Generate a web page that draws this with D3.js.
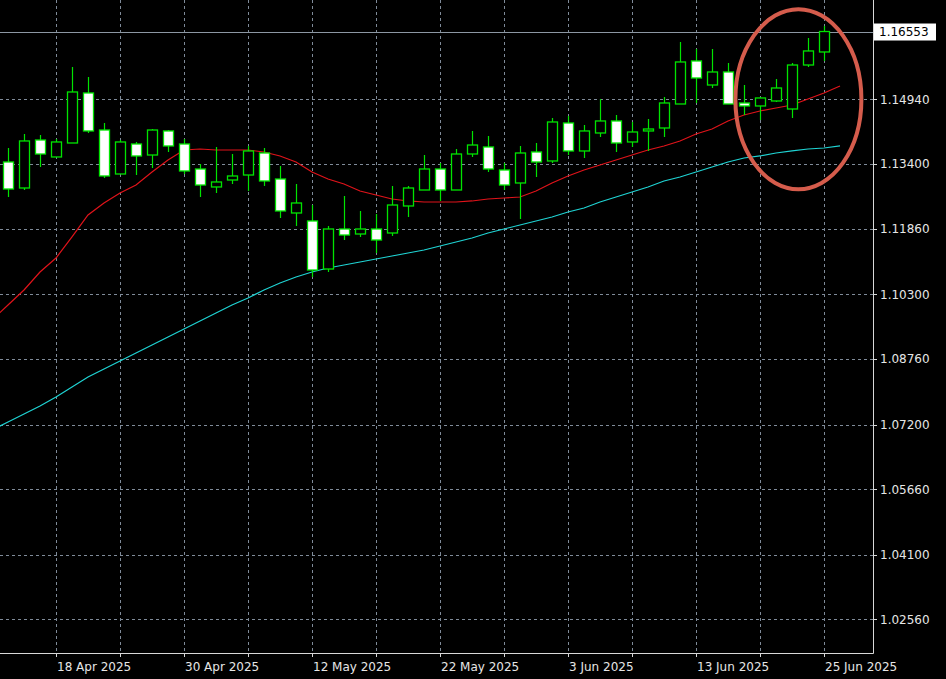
<!DOCTYPE html>
<html lang="en">
<head>
<meta charset="UTF-8">
<title>EURUSD Daily</title>
<script src="https://d3js.org/d3.v7.min.js"></script>
<style>
  html, body { margin: 0; padding: 0; background: #000; }
  svg text { font-family: "DejaVu Sans", sans-serif; font-size: 12px; }
</style>
</head>
<body>
<svg id="chart" width="946" height="679"></svg>
<script>
// OHLC, one entry per daily candle (15 Apr .. 25 Jun 2025)
const opens  = [1.13448,1.12829,1.13971,1.13567,1.13900,1.15090,1.14209,1.13162,1.13876,1.13614,
                1.14186,1.13876,1.13281,1.12853,1.13019,1.13138,1.13662,1.13043,1.12234,1.12044,
                1.10901,1.11853,1.11734,1.11853,1.11758,1.12401,1.12781,1.13281,1.12781,1.13638,
                1.13805,1.13257,1.12948,1.13686,1.13472,1.14376,1.13710,1.14138,1.14424,1.13924,
                1.14186,1.14257,1.14828,1.15852,1.15280,1.15590,1.14852,1.14781,1.14900,1.14709,
                1.15756,1.16066];
const highs  = [1.13781,1.14114,1.14090,1.13995,1.15709,1.15471,1.14376,1.13971,1.13924,1.14233,
                1.14209,1.13995,1.13400,1.13805,1.13638,1.13829,1.13781,1.13353,1.12924,1.12424,
                1.11925,1.12639,1.12282,1.12210,1.12877,1.12877,1.13614,1.13424,1.13757,1.14186,
                1.14067,1.13424,1.13829,1.13900,1.14495,1.14543,1.14328,1.14947,1.14566,1.14400,
                1.14471,1.14995,1.16304,1.16137,1.16137,1.15804,1.15280,1.14995,1.15423,1.15804,
                1.16399,1.16685];
const lows   = [1.12615,1.12781,1.13329,1.13567,1.13900,1.14138,1.13067,1.13162,1.13138,1.13305,
                1.13686,1.13162,1.12615,1.12710,1.12924,1.12758,1.12877,1.12115,1.11925,1.10711,
                1.10830,1.11591,1.11663,1.11282,1.11687,1.12139,1.12781,1.12520,1.12781,1.13567,
                1.13210,1.12781,1.12091,1.13091,1.13424,1.13614,1.13543,1.14043,1.13686,1.13805,
                1.13710,1.14043,1.14828,1.14852,1.15209,1.14828,1.14566,1.14447,1.14876,1.14495,
                1.15709,1.15852];
const closes = [1.12805,1.13948,1.13638,1.13924,1.15114,1.14186,1.13115,1.13924,1.13591,1.14209,
                1.13829,1.13234,1.12900,1.12972,1.13115,1.13710,1.12996,1.12282,1.12472,1.10877,
                1.11853,1.11710,1.11853,1.11591,1.12424,1.12829,1.13281,1.12781,1.13638,1.13852,
                1.13281,1.12900,1.13662,1.13448,1.14400,1.13710,1.14186,1.14424,1.13900,1.14162,
                1.14233,1.14852,1.15828,1.15447,1.15590,1.14828,1.14781,1.14971,1.15209,1.15756,
                1.16090,1.16553];

// moving averages, starting one bar before the first candle and shifted one bar right
const maRed  = [1.09687,
                1.10044,1.10401,1.10830,1.11163,1.11663,1.12186,1.12472,1.12710,1.12900,1.13210,
                1.13495,1.13733,1.13757,1.13733,1.13733,1.13733,1.13686,1.13591,1.13448,1.13210,
                1.13043,1.12924,1.12758,1.12662,1.12567,1.12520,1.12496,1.12496,1.12496,1.12520,
                1.12567,1.12591,1.12615,1.12758,1.12948,1.13115,1.13257,1.13376,1.13495,1.13614,
                1.13733,1.13829,1.13948,1.14114,1.14233,1.14424,1.14566,1.14662,1.14733,1.14804,
                1.14947,1.15090,1.15257];
const maCyan = [1.07069,
                1.07260,1.07450,1.07641,1.07855,1.08093,1.08331,1.08521,1.08712,1.08902,1.09092,
                1.09283,1.09473,1.09664,1.09854,1.10044,1.10211,1.10401,1.10568,1.10711,1.10830,
                1.10925,1.10996,1.11068,1.11139,1.11211,1.11282,1.11353,1.11449,1.11544,1.11639,
                1.11758,1.11853,1.11948,1.12044,1.12139,1.12258,1.12353,1.12496,1.12615,1.12734,
                1.12853,1.12996,1.13091,1.13210,1.13329,1.13448,1.13543,1.13591,1.13662,1.13710,
                1.13757,1.13781,1.13829];

const priceTicks = [1.14940,1.13400,1.11860,1.10300,1.08760,1.07200,1.05660,1.04100,1.02560];
const lastPrice = 1.16553;
const dateLabels = [[3,"18 Apr 2025"],[11,"30 Apr 2025"],[19,"12 May 2025"],[27,"22 May 2025"],
                    [35,"3 Jun 2025"],[43,"13 Jun 2025"],[51,"25 Jun 2025"]];

const plotW = 873, plotH = 653;
const svg = d3.select("#chart");
svg.append("rect").attr("width", 946).attr("height", 679).attr("fill", "#000");

const x = d3.scaleLinear().domain([0, 1]).range([8, 24]);
const y = d3.scaleLinear().domain([1.01762, 1.17303]).range([plotH, 0]);

const plot = svg.append("g");
plot.append("clipPath").attr("id", "clip").append("rect").attr("width", plotW).attr("height", plotH);
plot.attr("clip-path", "url(#clip)");

const gridColor = "#7f8b99";
// vertical grid every 4 bars
plot.append("g").selectAll("line").data(d3.range(3, 56, 4)).join("line")
  .attr("x1", d => Math.round(x(d)) + 0.5).attr("x2", d => Math.round(x(d)) + 0.5)
  .attr("y1", 0).attr("y2", plotH)
  .attr("stroke", gridColor).attr("stroke-dasharray", "3,3");
plot.append("g").selectAll("line").data(priceTicks).join("line")
  .attr("x1", 0).attr("x2", plotW)
  .attr("y1", d => Math.round(y(d)) + 0.5).attr("y2", d => Math.round(y(d)) + 0.5)
  .attr("stroke", gridColor).attr("stroke-dasharray", "3,3");

// current price line
plot.append("line").attr("x1", 0).attr("x2", plotW)
  .attr("y1", Math.round(y(lastPrice)) + 0.5).attr("y2", Math.round(y(lastPrice)) + 0.5)
  .attr("stroke", "#8c97a3");

// moving averages
const maLine = d3.line().x((d, i) => x(i - 1)).y(d => y(d));
plot.append("path").attr("d", maLine(maCyan)).attr("fill", "none").attr("stroke", "#1fd3d3").attr("stroke-width", 1.2);
plot.append("path").attr("d", maLine(maRed)).attr("fill", "none").attr("stroke", "#e0131a").attr("stroke-width", 1.2);

// candles
const bars = d3.range(opens.length).map(i => ({ i, o: opens[i], h: highs[i], l: lows[i], c: closes[i] }));
const cg = plot.append("g").selectAll("g").data(bars).join("g");
cg.append("line")
  .attr("x1", d => Math.round(x(d.i)) + 0.5).attr("x2", d => Math.round(x(d.i)) + 0.5)
  .attr("y1", d => y(d.h)).attr("y2", d => y(d.l))
  .attr("stroke", "#00e400").attr("stroke-width", 1.2);
cg.append("rect")
  .attr("x", d => Math.round(x(d.i)) - 4.5).attr("width", 10)
  .attr("y", d => y(Math.max(d.o, d.c)))
  .attr("height", d => Math.max(1.5, Math.abs(y(d.o) - y(d.c))))
  .attr("fill", d => d.c >= d.o ? "#000" : "#fff")
  .attr("stroke", "#00e400").attr("stroke-width", 1.3);

// annotation ellipse
svg.append("ellipse").attr("cx", x(49.4)).attr("cy", y(1.1494))
  .attr("rx", 63).attr("ry", 90)
  .attr("fill", "none").attr("stroke", "#d55c4c").attr("stroke-width", 4);

// frame
svg.append("path").attr("d", `M0,${plotH + 0.5}H${plotW + 0.5}V0`)
  .attr("fill", "none").attr("stroke", "#d8d8d8");

// price axis
const pa = svg.append("g");
pa.selectAll("line").data(priceTicks).join("line")
  .attr("x1", plotW).attr("x2", plotW + 4)
  .attr("y1", d => Math.round(y(d)) + 0.5).attr("y2", d => Math.round(y(d)) + 0.5)
  .attr("stroke", "#d8d8d8");
pa.selectAll("text").data(priceTicks).join("text")
  .attr("x", 880).attr("y", d => y(d) + 4.5)
  .attr("fill", "#e6e6e6").text(d => d.toFixed(5));
svg.append("rect").attr("x", 874).attr("y", y(lastPrice) - 8).attr("width", 62).attr("height", 17)
  .attr("fill", "#fff");
svg.append("text").attr("x", 879).attr("y", y(lastPrice) + 4.5)
  .attr("fill", "#000").text(lastPrice.toFixed(5));

// date axis
const da = svg.append("g");
da.selectAll("line").data(d3.range(3, 56, 4).filter(i => x(i) < plotW)).join("line")
  .attr("x1", d => Math.round(x(d)) + 0.5).attr("x2", d => Math.round(x(d)) + 0.5)
  .attr("y1", plotH).attr("y2", plotH + 4).attr("stroke", "#d8d8d8");
da.selectAll("text").data(dateLabels).join("text")
  .attr("x", d => x(d[0]) + 1).attr("y", 671)
  .attr("fill", "#e6e6e6").text(d => d[1]);
</script>
</body>
</html>
